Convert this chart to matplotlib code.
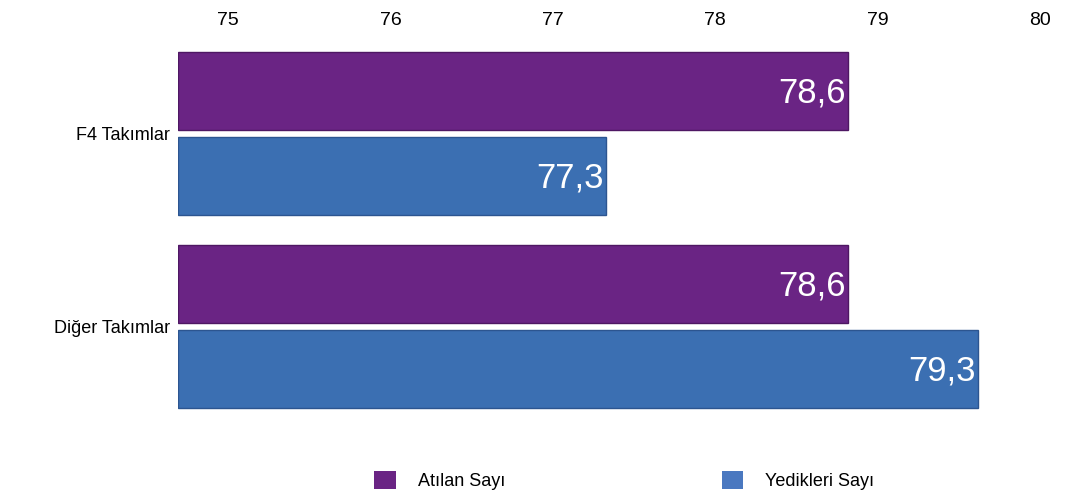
"""
F4 vs diğer takımlar: atılan / yenilen sayı ortalamaları
"""
import matplotlib.pyplot as plt
from matplotlib.patches import Patch

categories = ["F4 Takımlar", "Diğer Takımlar"]
atilan = [78.6, 78.6]
yedikleri = [77.3, 79.3]
series_names = ["Atılan Sayı", "Yedikleri Sayı"]
top_ticks = [75, 76, 77, 78, 79, 80]

purple = "#6a2484"
blue = "#3b6fb2"

plt.rcParams["font.family"] = ["Liberation Sans", "DejaVu Sans"]

fig = plt.figure(figsize=(10.67, 4.99), dpi=100)
ax = fig.add_axes([178 / 1067, 0.1232, 862 / 1067, 0.7966])

# bar space: 186 px per unit, starting at 75
x0 = 75
x1 = 75 + 862 / 186
ypos = list(range(len(categories)))
off = 0.22
h = 0.40

bars_a = ax.barh([y - off for y in ypos], [v - x0 for v in atilan], left=x0,
                 height=h, color=purple, edgecolor="#4e1763", linewidth=1)
bars_b = ax.barh([y + off for y in ypos], [v - x0 for v in yedikleri], left=x0,
                 height=h, color=blue, edgecolor="#2c5590", linewidth=1)

for bars, vals in ((bars_a, atilan), (bars_b, yedikleri)):
    for b, v in zip(bars, vals):
        ax.text(v - 0.01, b.get_y() + b.get_height() * 0.52, f"{v:.1f}".replace(".", ","),
                ha="right", va="center", color="white", fontsize=25,
                family=["Liberation Sans Narrow", "Liberation Sans", "DejaVu Sans"])

ax.set_xlim(x0, x1)
ax.set_ylim(1.575, -0.4845)
ax.set_yticks(ypos)
ax.set_yticklabels(categories, fontsize=13)
ax.tick_params(axis="y", length=0, pad=6)
ax.set_xticks([])
for s in ax.spines.values():
    s.set_visible(False)


# the printed scale sits a bit off the bars (perspective), map it the same way
def to_top(v):
    return 75 + (186 * (v - 75) - 50) / 162.4


def from_top(t):
    return 75 + (162.4 * (t - 75) + 50) / 186


top = ax.secondary_xaxis("top", functions=(to_top, from_top))
top.set_xticks(top_ticks)
top.tick_params(length=0, pad=8, labelsize=14)
for s in top.spines.values():
    s.set_visible(False)

handles = [Patch(facecolor=purple, edgecolor="none"),
           Patch(facecolor="#4a78c0", edgecolor="none")]
fig.legend(handles, series_names, loc="lower center", ncol=2, frameon=False,
           fontsize=13, bbox_to_anchor=(0.585, -0.015), columnspacing=12,
           handlelength=1.2, handleheight=1.2, handletextpad=1.2)

fig.savefig("out.png", dpi=100)
